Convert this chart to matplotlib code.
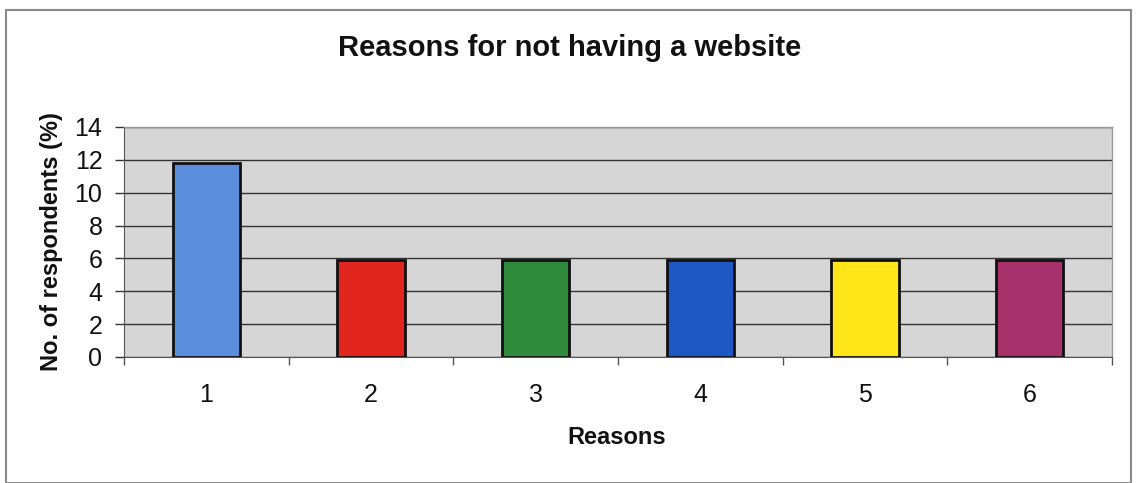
import matplotlib
matplotlib.use("Agg")
import matplotlib.pyplot as plt
from matplotlib.patches import Rectangle

categories = ["1", "2", "3", "4", "5", "6"]
values = [11.8, 5.9, 5.9, 5.9, 5.9, 5.9]
colors = ["#5B8EDB", "#E0261E", "#2F8A3C", "#1E58C4", "#FFE619", "#A6306A"]
yticks = [0, 2, 4, 6, 8, 10, 12, 14]

plt.rcParams['font.family'] = ['Liberation Sans', 'DejaVu Sans']

fig = plt.figure(figsize=(11.36, 4.83), dpi=100)
fig.patch.set_facecolor("white")
fig.patches.append(Rectangle((6/1136, 0.0), 1125/1136, 1 - 10/483, transform=fig.transFigure,
                             fill=False, edgecolor="#8a8a8a", linewidth=1.5))

ax = fig.add_axes([124/1136, 1 - 357/483, (1112 - 124)/1136, (357 - 127)/483])
ax.set_facecolor("#D6D6D6")
x = list(range(len(categories)))
ax.bar(x, values, width=0.41, color=colors, edgecolor="#111111", linewidth=2, zorder=3)

ax.set_xlim(-0.5, len(categories) - 0.5)
ax.set_ylim(0, 14)
ax.set_yticks(yticks)
ax.yaxis.grid(True, color="#333333", linewidth=1.0, zorder=1)
ax.set_axisbelow(True)

ax.set_xticks(x)
ax.set_xticklabels(categories, fontsize=18, color="#111111")
ax.tick_params(axis='x', length=0, pad=19)
ax.set_xticks([i + 0.5 for i in range(-1, len(categories))], minor=True)
ax.tick_params(axis='x', which='minor', length=6, width=1, color="#555555", direction='out')
ax.tick_params(axis='y', labelsize=18, labelcolor="#111111", length=6.5, width=1,
               color="#333333", direction='out', pad=9)

for s in ["top", "right"]:
    ax.spines[s].set_color("#999999")
    ax.spines[s].set_linewidth(1)
ax.spines["left"].set_color("#555555")
ax.spines["bottom"].set_color("#555555")

ax.set_xlabel("Reasons", fontsize=17, fontweight="bold", color="#111111", va="center")
ax.xaxis.set_label_coords((617 - 124)/988, (357 - 438)/230)
ax.set_ylabel("No. of respondents (%)", fontsize=17, fontweight="bold", color="#111111", va="center")
ax.yaxis.set_label_coords((52 - 124)/988, (357 - 242)/230)
fig.text(570/1136, 1 - 48/483, "Reasons for not having a website", fontsize=21,
         fontweight="bold", ha="center", va="center", color="#111111")

fig.savefig("out.png", dpi=100)
